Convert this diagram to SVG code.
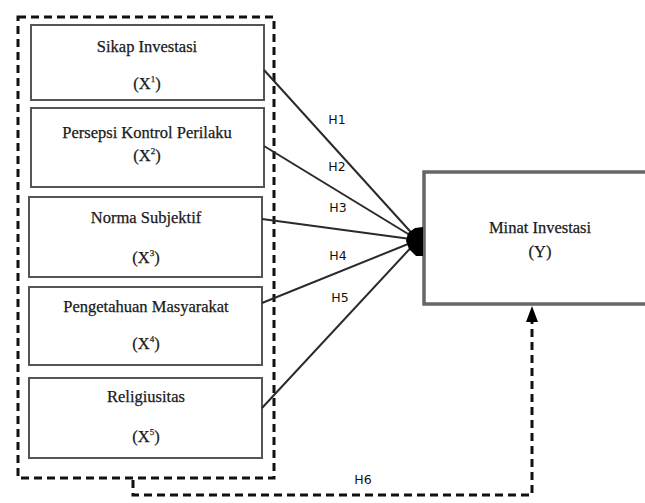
<svg xmlns="http://www.w3.org/2000/svg" width="645" height="503" viewBox="0 0 645 503">
<style>
.box{fill:#fff;stroke:#555;stroke-width:2}
.big{fill:#fff;stroke:#666;stroke-width:3.5}
.t{font-family:"Liberation Serif","Times New Roman",serif;font-size:16.5px;fill:#1a1a1a;stroke:#1a1a1a;stroke-width:0.25;text-anchor:middle}
.h{font-family:"DejaVu Sans",Verdana,sans-serif;font-size:12.5px;fill:#111;text-anchor:middle}
.ln{stroke:#2a2a2a;stroke-width:2;fill:none}
.dash{stroke:#111;stroke-width:3;fill:none;stroke-dasharray:8 5}
.sup{font-size:9px}
</style>
<rect width="645" height="503" fill="#fff"/>
<g id="group-x">
<rect class="dash" x="18" y="17" width="256" height="461"/>
</g>
<g id="x1"><rect class="box" x="31" y="25" width="233" height="75"/>
<text class="t" x="147" y="52">Sikap Investasi</text>
<text class="t" x="147" y="89">(X<tspan class="sup" dy="-7">1</tspan><tspan dy="7">)</tspan></text></g>
<g id="x2"><rect class="box" x="31" y="108" width="233" height="79"/>
<text class="t" x="147" y="138">Persepsi Kontrol Perilaku</text>
<text class="t" x="147" y="161">(X<tspan class="sup" dy="-7">2</tspan><tspan dy="7">)</tspan></text></g>
<g id="x3"><rect class="box" x="29" y="197" width="233" height="80"/>
<text class="t" x="146" y="223">Norma Subjektif</text>
<text class="t" x="146" y="263">(X<tspan class="sup" dy="-7">3</tspan><tspan dy="7">)</tspan></text></g>
<g id="x4"><rect class="box" x="29" y="287" width="233" height="78"/>
<text class="t" x="146" y="312">Pengetahuan Masyarakat</text>
<text class="t" x="146" y="349">(X<tspan class="sup" dy="-7">4</tspan><tspan dy="7">)</tspan></text></g>
<g id="x5"><rect class="box" x="29" y="378" width="233" height="80"/>
<text class="t" x="146" y="402">Religiusitas</text>
<text class="t" x="146" y="442">(X<tspan class="sup" dy="-7">5</tspan><tspan dy="7">)</tspan></text></g>
<g id="y"><rect class="big" x="424" y="172" width="240" height="132"/>
<text class="t" x="540" y="233">Minat Investasi</text>
<text class="t" x="540" y="257">(Y)</text></g>
<g id="connectors">
<line class="ln" x1="264" y1="70" x2="418" y2="240"/>
<line class="ln" x1="264" y1="146" x2="418" y2="240"/>
<line class="ln" x1="262" y1="219" x2="418" y2="240"/>
<line class="ln" x1="262" y1="303" x2="418" y2="240"/>
<line class="ln" x1="262" y1="408" x2="418" y2="240"/>
<path d="M423,227 L423,256 L416,256 L409,249 L406,241 L408,233 L415,228 Z" fill="#000"/>
<path class="dash" d="M133,480 V495 H532 V322"/>
<path d="M526,322 L532,306 L538,322 Z" fill="#000"/>
<text class="h" x="337" y="124">H1</text>
<text class="h" x="337" y="171">H2</text>
<text class="h" x="338" y="212">H3</text>
<text class="h" x="338" y="260">H4</text>
<text class="h" x="340" y="302">H5</text>
<text class="h" x="363" y="484">H6</text>
</g>
</svg>
